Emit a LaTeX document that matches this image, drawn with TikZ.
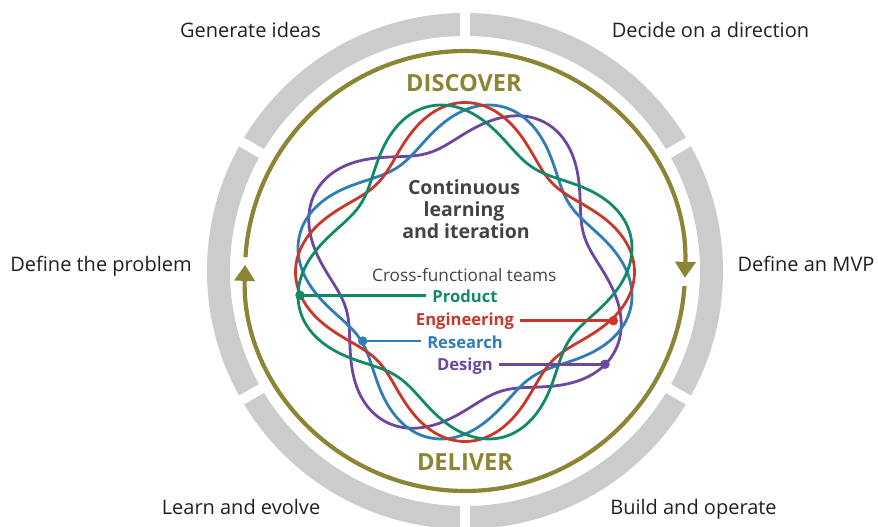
\documentclass[tikz,border=0pt]{standalone}
\usepackage{fontspec}
\setmainfont{Open Sans}
\usetikzlibrary{arrows.meta}
\definecolor{cOlive}{HTML}{8B8534}
\definecolor{ringgray}{HTML}{CCCCCC}
\definecolor{txt}{HTML}{231F20}
\definecolor{midtxt}{HTML}{434343}
\definecolor{cGreen}{HTML}{128A68}
\definecolor{cRed}{HTML}{C8382A}
\definecolor{cBlue}{HTML}{2E7DB5}
\definecolor{cPurple}{HTML}{6C469F}
\begin{document}
\begin{tikzpicture}[x=1pt,y=-1pt,
  lab/.style={font=\fontsize{20}{23}\selectfont, text=txt, inner sep=0pt, anchor=base},
  phase/.style={font=\bfseries\fontsize{23.6}{27}\selectfont, text=cOlive, inner sep=0pt, anchor=base},
  core/.style={font=\bfseries\fontsize{19.5}{23}\selectfont, text=midtxt, inner sep=0pt, anchor=base},
  teamhead/.style={font=\fontsize{17.2}{20}\selectfont, text=midtxt, inner sep=0pt, anchor=base},
  team/.style={font=\bfseries\fontsize{16.6}{20}\selectfont, inner xsep=6pt, inner ysep=0pt, anchor=base},
  wave/.style={line width=2.8pt},
  conn/.style={line width=2.8pt},
  tdot/.style={circle, fill, inner sep=0pt, minimum size=9.5pt},
  cycarrow/.style={cOlive, line width=4.2pt, -{Triangle[width=20pt,length=16pt]}},
]
\useasboundingbox (0,0) rectangle (878,527);
\coordinate (c) at (465,271);
% outer segmented ring
\draw[ringgray, line width=23pt] (c) circle[radius=246.5];
\foreach \a in {30,90,150,210,270,330}
  \draw[white, line width=10pt, shift={(465,271)}] (\a:226) -- (\a:268);
% cycle arrows (y axis flipped: tikz angle = - screen angle)
\draw[cycarrow] ([shift={(-176.4:220)}]c) arc[start angle=-176.4, end angle=1.8, radius=220];
\draw[cycarrow] ([shift={(3.9:220)}]c) arc[start angle=3.9, end angle=181.6, radius=220];
% wavy team curves
\draw[wave, cPurple] plot[domain=0:360, samples=181, smooth]
  ({465+(147+22.5*cos(4*(\x+28)))*cos(\x)}, {272-(147+22.5*cos(4*(\x+28)))*sin(\x)}) -- cycle;
\draw[wave, cBlue] plot[domain=0:360, samples=181, smooth]
  ({465+(147+22.5*cos(4*(\x+12)))*cos(\x)}, {272-(147+22.5*cos(4*(\x+12)))*sin(\x)}) -- cycle;
\draw[wave, cRed] plot[domain=0:360, samples=181, smooth]
  ({465+(147+22.5*cos(4*(\x)))*cos(\x)}, {272-(147+22.5*cos(4*(\x)))*sin(\x)}) -- cycle;
\draw[wave, cGreen] plot[domain=0:360, samples=181, smooth]
  ({465+(147+22.5*cos(4*(\x-12)))*cos(\x)}, {272-(147+22.5*cos(4*(\x-12)))*sin(\x)}) -- cycle;
% outer labels
\node[lab] (gen) at (250.5,38) {Generate ideas};
\node[lab] (dec) at (710.5,38) {Decide on a direction};
\node[lab] (prob) at (101,271.7) {Define the problem};
\node[lab] (mvp) at (806,271.7) {Define an MVP};
\node[lab] (learn) at (241,514) {Learn and evolve};
\node[lab] (build) at (693.5,514) {Build and operate};
% phases
\node[phase] (disc) at (464,91.7) {DISCOVER};
\node[phase] (deliv) at (465,470) {DELIVER};
% centre text
\node[core] (cont1) at (464,194) {Continuous};
\node[core] (cont2) at (464,216.3) {learning};
\node[core] (cont3) at (466,238.3) {and iteration};
\node[teamhead] (cross) at (464.3,281) {Cross-functional teams};
\node[team, text=cGreen] (prod) at (465,302.7) {Product};
\node[team, text=cRed] (eng) at (465,325.5) {Engineering};
\node[team, text=cBlue] (res) at (465,348.3) {Research};
\node[team, text=cPurple] (des) at (465,370.5) {Design};
% dots and connectors
\node[tdot, cGreen] (pdot) at (300,295.3) {};
\node[tdot, cRed] (edot) at (613.3,320.7) {};
\node[tdot, cBlue] (rdot) at (362.7,341) {};
\node[tdot, cPurple] (ddot) at (605,364.3) {};
\draw[conn, cGreen] (pdot.center) -- (prod.west |- pdot);
\draw[conn, cRed] (eng.east |- edot) -- (edot.center);
\draw[conn, cBlue] (rdot.center) -- (res.west |- rdot);
\draw[conn, cPurple] (des.east |- ddot) -- (ddot.center);
\end{tikzpicture}
\end{document}
